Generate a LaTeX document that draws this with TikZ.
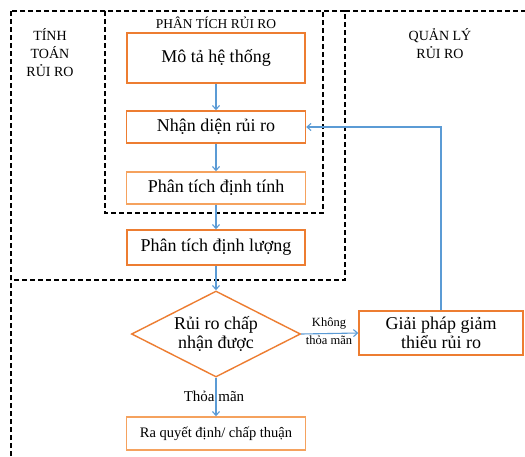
\documentclass[tikz,border=0pt]{standalone}
\usepackage{fontspec}
\setmainfont{Liberation Serif}
\usetikzlibrary{shapes.geometric,arrows.meta}
\definecolor{org}{HTML}{ED7D31}
\definecolor{lorg}{HTML}{F5A25E}
\definecolor{blu}{HTML}{5B9BD5}
\begin{document}
\begin{tikzpicture}[x=1pt,y=-1pt,
  box/.style={draw=org, line width=1.4pt, inner sep=0pt, align=center,
    font=\fontsize{18}{18.5}\selectfont},
  lbox/.style={box, draw=lorg},
  region/.style={draw=black, line width=1.6pt, dash pattern=on 5pt off 3pt},
  regionlabel/.style={align=center, inner sep=0pt, font=\fontsize{14}{18}\selectfont},
  arr/.style={draw=blu, line width=1.1pt, -{Straight Barb[length=4pt,width=7pt]}},
  small/.style={inner sep=0pt, font=\fontsize{12.5}{14}\selectfont}]
\useasboundingbox (0,0) rectangle (525,456);
\fill[white] (0,0) rectangle (525,456);

% dashed regions
\draw[region] (11,11) rectangle (345,280);
\draw[region] (105,11) rectangle (323,213);
\draw[region] (11,456) -- (11,280);
\draw[region] (345,11) -- (525,11);

\node[regionlabel] (tinhtoan) at (50,53) {TÍNH\\TOÁN\\RỦI RO};
\node[regionlabel, font=\fontsize{13.5}{16}\selectfont] (phantich) at (216,23) {PHÂN TÍCH RỦI RO};
\node[regionlabel] (quanly) at (440,44) {QUẢN LÝ\\RỦI RO};

% flow nodes
\node[box, minimum width=178pt, minimum height=50pt] (mota) at (216,58) {Mô tả hệ thống};
\node[box, minimum width=179pt, minimum height=32pt] (nhan) at (216,127) {Nhận diện rủi ro};
\node[lbox, minimum width=179pt, minimum height=32pt] (dtinh) at (216,188) {Phân tích định tính};
\node[box, minimum width=178pt, minimum height=35pt] (dluong) at (216,247.5) {Phân tích định lượng};
\node[box, shape=diamond, aspect=2, minimum width=169pt, minimum height=86pt] (chap) at (216,334) {Rủi ro chấp\\nhận được};
\node[box, minimum width=164pt, minimum height=44pt] (giai) at (441,333) {Giải pháp giảm\\thiểu rủi ro};
\node[lbox, minimum width=179pt, minimum height=33pt, font=\fontsize{14.5}{16}\selectfont] (ra) at (216,433.5) {Ra quyết định/ chấp thuận};

% connectors
\draw[arr] (mota) -- (nhan);
\draw[arr] (nhan) -- (dtinh);
\draw[arr] (dtinh) -- (dluong);
\draw[arr] (dluong) -- (chap.north);
\draw[arr] (chap.south) -- (ra);
\draw[arr] (chap.east) -- (giai.west);
\draw[arr] (giai.north) |- (nhan.east);

\node[small] (khong) at (329,323) {Không};
\node[small] (thoa1) at (329,340) {thỏa mãn};
\node[inner sep=0pt, font=\fontsize{15}{16}\selectfont] (thoa2) at (214,396) {Thỏa mãn};
\end{tikzpicture}
\end{document}
